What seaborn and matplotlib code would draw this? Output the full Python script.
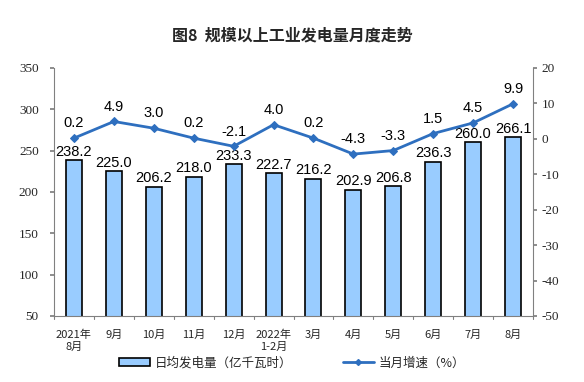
import numpy as np
import pandas as pd
import seaborn as sns
import matplotlib.pyplot as plt
from matplotlib.lines import Line2D
from matplotlib.patches import Patch

# data
months = ["2021年\n8月", "9月", "10月", "11月", "12月", "2022年\n1-2月",
          "3月", "4月", "5月", "6月", "7月", "8月"]
daily_output = [238.2, 225.0, 206.2, 218.0, 233.3, 222.7,
                216.2, 202.9, 206.8, 236.3, 260.0, 266.1]
growth = [0.2, 4.9, 3.0, 0.2, -2.1, 4.0, 0.2, -4.3, -3.3, 1.5, 4.5, 9.9]
left_ticks = list(range(50, 351, 50))
right_ticks = list(range(-50, 21, 10))

df = pd.DataFrame({"month": months, "output": daily_output, "growth": growth})

sns.set_theme(style="white")
plt.rcParams["font.family"] = ["Liberation Sans", "Noto Sans CJK SC", "DejaVu Sans"]
plt.rcParams["axes.unicode_minus"] = False

BAR = "#99CCFF"
LINE = "#2E6FBF"
CJK = ["Noto Sans CJK SC", "DejaVu Sans"]

fig = plt.figure(figsize=(5.84, 3.82), dpi=100)
ax = fig.add_axes([54 / 584, 1 - 316 / 382, (533 - 54) / 584, (316 - 68) / 382])

sns.barplot(data=df, x="month", y="output", color=BAR, width=0.4,
            edgecolor="black", linewidth=1.2, saturation=1, ax=ax)
ax.set_ylim(50, 350)
ax.set_xlim(-0.5, len(months) - 0.5)
ax.set_xlabel("")
ax.set_ylabel("")

for i, v in enumerate(daily_output):
    ax.text(i, v + 2, f"{v:.1f}", ha="center", va="bottom", fontsize=10.5,
            family="Liberation Sans", color="black")

ax2 = ax.twinx()
sns.lineplot(x=np.arange(len(months)), y=growth, color=LINE, linewidth=2,
             marker="D", markersize=4.5, markeredgecolor=LINE, ax=ax2)
ax2.set_ylim(-50, 20)

for i, v in enumerate(growth):
    ax2.text(i, v + 2.2, f"{v:.1f}", ha="center", va="bottom", fontsize=10.5,
             family="Liberation Sans", color="black")

# axes styling
for a in (ax, ax2):
    a.spines["top"].set_visible(False)
    for s in ("left", "right", "bottom"):
        a.spines[s].set_color("#808080")
        a.spines[s].set_linewidth(0.8)
ax.spines["right"].set_visible(False)
ax2.spines["left"].set_visible(False)
ax2.spines["bottom"].set_visible(False)

ax.set_yticks(left_ticks)
ax.set_yticklabels([str(t) for t in left_ticks])
ax2.set_yticks(right_ticks)
ax2.set_yticklabels([str(t) for t in right_ticks])
for lab in ax.get_yticklabels() + ax2.get_yticklabels():
    lab.set_fontfamily("Liberation Serif")
    lab.set_fontsize(9.5)
ax.tick_params(axis="y", left=True, length=3, color="#808080", pad=8)
ax2.tick_params(axis="y", right=True, length=3, color="#808080", pad=3)

ax.set_xticks(np.arange(len(months)))
ax.set_xticklabels(months, family=CJK, fontsize=8, linespacing=1.15)
ax.tick_params(axis="x", bottom=False, pad=4)
for x in np.arange(-0.5, len(months), 1.0):
    ax.plot([x, x], [0, -0.012], transform=ax.get_xaxis_transform(),
            color="#808080", lw=0.8, clip_on=False)

fig.text(0.5, 1 - 36 / 382, "图8  规模以上工业发电量月度走势", ha="center", va="center",
         fontsize=11.5, fontweight="bold", family=CJK)

handles = [Patch(facecolor=BAR, edgecolor="black", linewidth=1.2),
           Line2D([0], [0], color=LINE, lw=2, marker="D", markersize=3)]
fig.legend(handles, ["日均发电量（亿千瓦时）", "当月增速（%）"], loc="center",
           bbox_to_anchor=(0.5, 1 - 363 / 382), ncol=2, frameon=False,
           prop={"family": CJK, "size": 9}, handlelength=2.5, columnspacing=4,
           handleheight=0.6, handletextpad=0.4)

fig.savefig("out.png", dpi=100)
